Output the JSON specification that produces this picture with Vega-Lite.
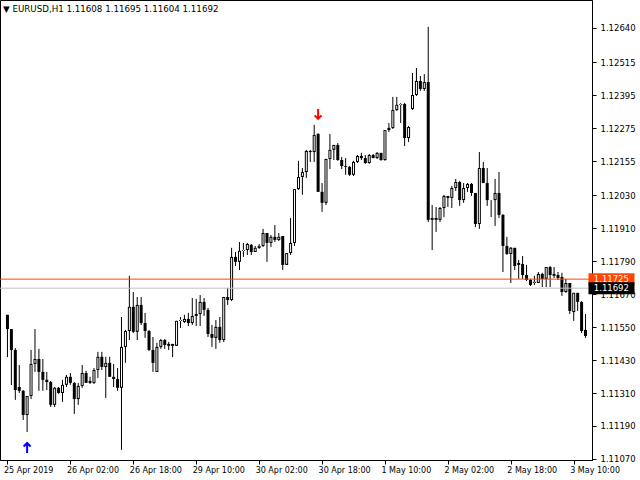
{
"$schema": "https://vega.github.io/schema/vega-lite/v6.json",
"width": 592, "height": 460,
"autosize": {"type": "none"},
"padding": {"left": 0, "top": 0, "right": 48, "bottom": 20},
"background": "white",
"title": {"text": "▼ EURUSD,H1  1.11608 1.11695 1.11604 1.11692", "anchor": "start", "frame": "group", "orient": "top", "offset": -14, "dx": 3, "font": "DejaVu Sans", "fontSize": 8.7, "fontWeight": "normal", "color": "black"},
"config": {
  "view": {"stroke": "black", "strokeWidth": 1},
  "axis": {"labelFont": "DejaVu Sans", "labelFontSize": 8, "labelColor": "black", "tickColor": "black", "domainColor": "black", "grid": false, "title": null, "tickSize": 4, "labelOverlap": false, "labelFlush": false, "labelBound": false}
},
"datasets": {
"candles": [
{"i":0,"o":1.11595,"h":1.11595,"l":1.11441,"c":1.11543},
{"i":1,"o":1.11543,"h":1.11543,"l":1.11339,"c":1.11467},
{"i":2,"o":1.11467,"h":1.11474,"l":1.11285,"c":1.11321},
{"i":3,"o":1.11332,"h":1.11412,"l":1.11310,"c":1.11318},
{"i":4,"o":1.11318,"h":1.11321,"l":1.11212,"c":1.11230},
{"i":5,"o":1.11230,"h":1.11299,"l":1.11168,"c":1.11299},
{"i":6,"o":1.11299,"h":1.11467,"l":1.11288,"c":1.11416},
{"i":7,"o":1.11416,"h":1.11543,"l":1.11387,"c":1.11434},
{"i":8,"o":1.11434,"h":1.11471,"l":1.11318,"c":1.11387},
{"i":9,"o":1.11387,"h":1.11434,"l":1.11318,"c":1.11358},
{"i":10,"o":1.11358,"h":1.11387,"l":1.11321,"c":1.11350},
{"i":11,"o":1.11350,"h":1.11354,"l":1.11259,"c":1.11267},
{"i":12,"o":1.11267,"h":1.11332,"l":1.11259,"c":1.11329},
{"i":13,"o":1.11329,"h":1.11332,"l":1.11307,"c":1.11310},
{"i":14,"o":1.11310,"h":1.11358,"l":1.11278,"c":1.11340},
{"i":15,"o":1.11340,"h":1.11376,"l":1.11332,"c":1.11369},
{"i":16,"o":1.11369,"h":1.11383,"l":1.11340,"c":1.11347},
{"i":17,"o":1.11347,"h":1.11350,"l":1.11234,"c":1.11288},
{"i":18,"o":1.11288,"h":1.11347,"l":1.11267,"c":1.11336},
{"i":19,"o":1.11336,"h":1.11412,"l":1.11329,"c":1.11383},
{"i":20,"o":1.11383,"h":1.11391,"l":1.11347,"c":1.11347},
{"i":21,"o":1.11354,"h":1.11369,"l":1.11343,"c":1.11347},
{"i":22,"o":1.11347,"h":1.11401,"l":1.11343,"c":1.11394},
{"i":23,"o":1.11394,"h":1.11460,"l":1.11365,"c":1.11442},
{"i":24,"o":1.11442,"h":1.11460,"l":1.11394,"c":1.11405},
{"i":25,"o":1.11405,"h":1.11442,"l":1.11292,"c":1.11420},
{"i":26,"o":1.11420,"h":1.11442,"l":1.11369,"c":1.11369},
{"i":27,"o":1.11369,"h":1.11416,"l":1.11332,"c":1.11361},
{"i":28,"o":1.11361,"h":1.11401,"l":1.11318,"c":1.11329},
{"i":29,"o":1.11329,"h":1.11587,"l":1.11103,"c":1.11478},
{"i":30,"o":1.11478,"h":1.11540,"l":1.11420,"c":1.11536},
{"i":31,"o":1.11536,"h":1.11737,"l":1.11503,"c":1.11624},
{"i":32,"o":1.11624,"h":1.11678,"l":1.11529,"c":1.11533},
{"i":33,"o":1.11533,"h":1.11660,"l":1.11503,"c":1.11631},
{"i":34,"o":1.11631,"h":1.11660,"l":1.11558,"c":1.11565},
{"i":35,"o":1.11565,"h":1.11602,"l":1.11511,"c":1.11536},
{"i":36,"o":1.11536,"h":1.11540,"l":1.11463,"c":1.11467},
{"i":37,"o":1.11467,"h":1.11514,"l":1.11387,"c":1.11420},
{"i":38,"o":1.11387,"h":1.11493,"l":1.11387,"c":1.11478},
{"i":39,"o":1.11478,"h":1.11507,"l":1.11471,"c":1.11503},
{"i":40,"o":1.11503,"h":1.11507,"l":1.11471,"c":1.11485},
{"i":41,"o":1.11489,"h":1.11496,"l":1.11467,"c":1.11482},
{"i":42,"o":1.11489,"h":1.11489,"l":1.11441,"c":1.11482},
{"i":43,"o":1.11482,"h":1.11573,"l":1.11482,"c":1.11573},
{"i":44,"o":1.11573,"h":1.11587,"l":1.11547,"c":1.11576},
{"i":45,"o":1.11569,"h":1.11595,"l":1.11565,"c":1.11580},
{"i":46,"o":1.11580,"h":1.11602,"l":1.11554,"c":1.11565},
{"i":47,"o":1.11565,"h":1.11656,"l":1.11558,"c":1.11591},
{"i":48,"o":1.11591,"h":1.11653,"l":1.11554,"c":1.11598},
{"i":49,"o":1.11598,"h":1.11667,"l":1.11554,"c":1.11642},
{"i":50,"o":1.11642,"h":1.11656,"l":1.11591,"c":1.11613},
{"i":51,"o":1.11613,"h":1.11620,"l":1.11514,"c":1.11525},
{"i":52,"o":1.11525,"h":1.11558,"l":1.11478,"c":1.11511},
{"i":53,"o":1.11511,"h":1.11576,"l":1.11471,"c":1.11551},
{"i":54,"o":1.11551,"h":1.11587,"l":1.11493,"c":1.11503},
{"i":55,"o":1.11503,"h":1.11660,"l":1.11496,"c":1.11660},
{"i":56,"o":1.11660,"h":1.11693,"l":1.11631,"c":1.11649},
{"i":57,"o":1.11649,"h":1.11839,"l":1.11645,"c":1.11806},
{"i":58,"o":1.11806,"h":1.11824,"l":1.11773,"c":1.11788},
{"i":59,"o":1.11788,"h":1.11860,"l":1.11758,"c":1.11828},
{"i":60,"o":1.11828,"h":1.11857,"l":1.11806,"c":1.11831},
{"i":61,"o":1.11831,"h":1.11857,"l":1.11813,"c":1.11853},
{"i":62,"o":1.11850,"h":1.11853,"l":1.11813,"c":1.11824},
{"i":63,"o":1.11824,"h":1.11846,"l":1.11824,"c":1.11839},
{"i":64,"o":1.11839,"h":1.11853,"l":1.11835,"c":1.11846},
{"i":65,"o":1.11846,"h":1.11908,"l":1.11842,"c":1.11893},
{"i":66,"o":1.11893,"h":1.11893,"l":1.11788,"c":1.11857},
{"i":67,"o":1.11857,"h":1.11886,"l":1.11842,"c":1.11879},
{"i":68,"o":1.11879,"h":1.11922,"l":1.11860,"c":1.11868},
{"i":69,"o":1.11868,"h":1.11893,"l":1.11864,"c":1.11879},
{"i":70,"o":1.11882,"h":1.11882,"l":1.11758,"c":1.11777},
{"i":71,"o":1.11777,"h":1.11820,"l":1.11777,"c":1.11820},
{"i":72,"o":1.11820,"h":1.11948,"l":1.11813,"c":1.11857},
{"i":73,"o":1.11857,"h":1.12053,"l":1.11846,"c":1.12053},
{"i":74,"o":1.12053,"h":1.12156,"l":1.12050,"c":1.12097},
{"i":75,"o":1.12097,"h":1.12130,"l":1.12032,"c":1.12115},
{"i":76,"o":1.12115,"h":1.12196,"l":1.12094,"c":1.12192},
{"i":77,"o":1.12192,"h":1.12196,"l":1.12152,"c":1.12188},
{"i":78,"o":1.12188,"h":1.12287,"l":1.12152,"c":1.12250},
{"i":79,"o":1.12254,"h":1.12257,"l":1.12043,"c":1.12043},
{"i":80,"o":1.12043,"h":1.12075,"l":1.11970,"c":1.12003},
{"i":81,"o":1.12003,"h":1.12163,"l":1.11995,"c":1.12163},
{"i":82,"o":1.12163,"h":1.12254,"l":1.12126,"c":1.12196},
{"i":83,"o":1.12196,"h":1.12214,"l":1.12159,"c":1.12214},
{"i":84,"o":1.12214,"h":1.12221,"l":1.12156,"c":1.12159},
{"i":85,"o":1.12159,"h":1.12170,"l":1.12126,"c":1.12137},
{"i":86,"o":1.12137,"h":1.12166,"l":1.12105,"c":1.12134},
{"i":87,"o":1.12134,"h":1.12137,"l":1.12101,"c":1.12105},
{"i":88,"o":1.12105,"h":1.12156,"l":1.12101,"c":1.12152},
{"i":89,"o":1.12152,"h":1.12177,"l":1.12148,"c":1.12174},
{"i":90,"o":1.12174,"h":1.12185,"l":1.12159,"c":1.12166},
{"i":91,"o":1.12166,"h":1.12177,"l":1.12145,"c":1.12148},
{"i":92,"o":1.12148,"h":1.12181,"l":1.12145,"c":1.12177},
{"i":93,"o":1.12177,"h":1.12181,"l":1.12166,"c":1.12166},
{"i":94,"o":1.12166,"h":1.12188,"l":1.12163,"c":1.12185},
{"i":95,"o":1.12185,"h":1.12185,"l":1.12156,"c":1.12159},
{"i":96,"o":1.12159,"h":1.12268,"l":1.12156,"c":1.12268},
{"i":97,"o":1.12268,"h":1.12294,"l":1.12261,"c":1.12276},
{"i":98,"o":1.12276,"h":1.12389,"l":1.12272,"c":1.12341},
{"i":99,"o":1.12341,"h":1.12389,"l":1.12338,"c":1.12360},
{"i":100,"o":1.12360,"h":1.12367,"l":1.12294,"c":1.12363},
{"i":101,"o":1.12363,"h":1.12367,"l":1.12210,"c":1.12239},
{"i":102,"o":1.12239,"h":1.12283,"l":1.12225,"c":1.12279},
{"i":103,"o":1.12345,"h":1.12476,"l":1.12341,"c":1.12396},
{"i":104,"o":1.12396,"h":1.12494,"l":1.12392,"c":1.12447},
{"i":105,"o":1.12447,"h":1.12465,"l":1.12411,"c":1.12418},
{"i":106,"o":1.12418,"h":1.12472,"l":1.12411,"c":1.12443},
{"i":107,"o":1.12443,"h":1.12644,"l":1.11933,"c":1.11941},
{"i":108,"o":1.11941,"h":1.11995,"l":1.11831,"c":1.11948},
{"i":109,"o":1.11948,"h":1.11988,"l":1.11897,"c":1.11941},
{"i":110,"o":1.11941,"h":1.11988,"l":1.11933,"c":1.11984},
{"i":111,"o":1.11984,"h":1.12032,"l":1.11951,"c":1.12028},
{"i":112,"o":1.12028,"h":1.12028,"l":1.11988,"c":1.12021},
{"i":113,"o":1.12021,"h":1.12064,"l":1.11984,"c":1.12057},
{"i":114,"o":1.12057,"h":1.12090,"l":1.12046,"c":1.12079},
{"i":115,"o":1.12079,"h":1.12083,"l":1.11992,"c":1.12013},
{"i":116,"o":1.12013,"h":1.12075,"l":1.12003,"c":1.12057},
{"i":117,"o":1.12057,"h":1.12075,"l":1.12043,"c":1.12072},
{"i":118,"o":1.12072,"h":1.12075,"l":1.12028,"c":1.12039},
{"i":119,"o":1.12039,"h":1.12039,"l":1.11915,"c":1.11926},
{"i":120,"o":1.11926,"h":1.12188,"l":1.11908,"c":1.12130},
{"i":121,"o":1.12130,"h":1.12152,"l":1.12075,"c":1.12075},
{"i":122,"o":1.12075,"h":1.12130,"l":1.11992,"c":1.12013},
{"i":123,"o":1.12013,"h":1.12013,"l":1.11951,"c":1.12013},
{"i":124,"o":1.12013,"h":1.12090,"l":1.11919,"c":1.12039},
{"i":125,"o":1.12039,"h":1.12115,"l":1.11948,"c":1.11959},
{"i":126,"o":1.11959,"h":1.11962,"l":1.11751,"c":1.11846},
{"i":127,"o":1.11846,"h":1.11879,"l":1.11813,"c":1.11817},
{"i":128,"o":1.11817,"h":1.11842,"l":1.11711,"c":1.11839},
{"i":129,"o":1.11839,"h":1.11839,"l":1.11758,"c":1.11773},
{"i":130,"o":1.11784,"h":1.11795,"l":1.11726,"c":1.11777},
{"i":131,"o":1.11780,"h":1.11809,"l":1.11726,"c":1.11740},
{"i":132,"o":1.11740,"h":1.11777,"l":1.11718,"c":1.11722},
{"i":133,"o":1.11722,"h":1.11726,"l":1.11700,"c":1.11704},
{"i":134,"o":1.11711,"h":1.11737,"l":1.11704,"c":1.11715},
{"i":135,"o":1.11711,"h":1.11751,"l":1.11711,"c":1.11744},
{"i":136,"o":1.11744,"h":1.11748,"l":1.11696,"c":1.11726},
{"i":137,"o":1.11726,"h":1.11769,"l":1.11696,"c":1.11769},
{"i":138,"o":1.11769,"h":1.11773,"l":1.11696,"c":1.11740},
{"i":139,"o":1.11744,"h":1.11769,"l":1.11729,"c":1.11737},
{"i":140,"o":1.11740,"h":1.11751,"l":1.11722,"c":1.11729},
{"i":141,"o":1.11733,"h":1.11748,"l":1.11664,"c":1.11678},
{"i":142,"o":1.11678,"h":1.11726,"l":1.11675,"c":1.11711},
{"i":143,"o":1.11711,"h":1.11711,"l":1.11598,"c":1.11609},
{"i":144,"o":1.11605,"h":1.11675,"l":1.11573,"c":1.11675},
{"i":145,"o":1.11675,"h":1.11675,"l":1.11609,"c":1.11642},
{"i":146,"o":1.11642,"h":1.11645,"l":1.11529,"c":1.11536},
{"i":147,"o":1.11540,"h":1.11598,"l":1.11511,"c":1.11518}
],
"levels": [
{"kind": "level", "price": 1.11725, "label": "1.11725"},
{"kind": "bid", "price": 1.11692, "label": "1.11692"}
],
"signals": [
{"i": 5, "price": 1.11110, "sig": "buy"},
{"i": 79, "price": 1.12327, "sig": "sell"}
]
},
"layer": [
{
 "data": {"name": "candles"},
 "mark": {"type": "rule", "color": "black", "strokeWidth": 1},
 "encoding": {
  "x": {"field": "i", "type": "quantitative", "scale": {"domain": [-0.625, 147.375], "nice": false, "zero": false}, "axis": {"orient": "bottom", "values": [0,16,32,48,64,80,96,112,128,144], "labelExpr": "['25 Apr 2019','26 Apr 02:00','26 Apr 18:00','29 Apr 10:00','30 Apr 02:00','30 Apr 18:00','1 May 10:00','2 May 02:00','2 May 18:00','3 May 10:00'][round(datum.value/16)]", "labelAlign": "left", "labelBaseline": "top", "labelPadding": 2, "labelOffset": -4, "labelOverlap": false}},
  "y": {"field": "l", "type": "quantitative", "scale": {"domain": [1.11066, 1.12742], "nice": false, "zero": false}, "axis": {"orient": "right", "values": [1.12640,1.12515,1.12395,1.12275,1.12155,1.12030,1.11910,1.11790,1.11670,1.11550,1.11430,1.11310,1.11190,1.11070], "format": ".5f", "labelBaseline": "middle", "labelPadding": 4, "labelOverlap": false, "labelFontSize": 8.5}},
  "y2": {"field": "h"}
 }
},
{
 "data": {"name": "candles"},
 "mark": {"type": "bar", "size": 3, "color": "black", "strokeWidth": 0},
 "encoding": {
  "x": {"field": "i", "type": "quantitative", "scale": {"domain": [-0.625, 147.375], "nice": false, "zero": false}, "axis": {"orient": "bottom", "values": [0,16,32,48,64,80,96,112,128,144], "labelExpr": "['25 Apr 2019','26 Apr 02:00','26 Apr 18:00','29 Apr 10:00','30 Apr 02:00','30 Apr 18:00','1 May 10:00','2 May 02:00','2 May 18:00','3 May 10:00'][round(datum.value/16)]", "labelAlign": "left", "labelBaseline": "top", "labelPadding": 2, "labelOffset": -4, "labelOverlap": false}},
  "y": {"field": "o", "type": "quantitative", "scale": {"domain": [1.11066, 1.12742], "nice": false, "zero": false}, "axis": {"orient": "right", "values": [1.12640,1.12515,1.12395,1.12275,1.12155,1.12030,1.11910,1.11790,1.11670,1.11550,1.11430,1.11310,1.11190,1.11070], "format": ".5f", "labelBaseline": "middle", "labelPadding": 4, "labelOverlap": false, "labelFontSize": 8.5}},
  "y2": {"field": "c"}
 }
},
{
 "data": {"name": "candles"},
 "transform": [{"filter": "datum.c > datum.o"}],
 "mark": {"type": "bar", "size": 1, "color": "white", "strokeWidth": 0, "yOffset": -1, "y2Offset": 1},
 "encoding": {
  "x": {"field": "i", "type": "quantitative", "scale": {"domain": [-0.625, 147.375], "nice": false, "zero": false}, "axis": {"orient": "bottom", "values": [0,16,32,48,64,80,96,112,128,144], "labelExpr": "['25 Apr 2019','26 Apr 02:00','26 Apr 18:00','29 Apr 10:00','30 Apr 02:00','30 Apr 18:00','1 May 10:00','2 May 02:00','2 May 18:00','3 May 10:00'][round(datum.value/16)]", "labelAlign": "left", "labelBaseline": "top", "labelPadding": 2, "labelOffset": -4, "labelOverlap": false}},
  "y": {"field": "o", "type": "quantitative", "scale": {"domain": [1.11066, 1.12742], "nice": false, "zero": false}, "axis": {"orient": "right", "values": [1.12640,1.12515,1.12395,1.12275,1.12155,1.12030,1.11910,1.11790,1.11670,1.11550,1.11430,1.11310,1.11190,1.11070], "format": ".5f", "labelBaseline": "middle", "labelPadding": 4, "labelOverlap": false, "labelFontSize": 8.5}},
  "y2": {"field": "c"}
 }
},
{
 "data": {"name": "levels"},
 "mark": {"type": "rule", "strokeWidth": 1},
 "encoding": {
  "y": {"field": "price", "type": "quantitative", "scale": {"domain": [1.11066, 1.12742], "nice": false, "zero": false}, "axis": {"orient": "right", "values": [1.12640,1.12515,1.12395,1.12275,1.12155,1.12030,1.11910,1.11790,1.11670,1.11550,1.11430,1.11310,1.11190,1.11070], "format": ".5f", "labelBaseline": "middle", "labelPadding": 4, "labelOverlap": false, "labelFontSize": 8.5}},
  "color": {"field": "kind", "type": "nominal", "scale": {"domain": ["level", "bid"], "range": ["#ff4500", "#c0c0c0"]}, "legend": null}
 }
},
{
 "data": {"name": "levels"},
 "mark": {"type": "tick", "orient": "horizontal", "size": 46, "thickness": 12, "opacity": 1},
 "encoding": {
  "x": {"datum": 153.6, "type": "quantitative", "scale": {"domain": [-0.625, 147.375], "nice": false, "zero": false}, "axis": {"orient": "bottom", "values": [0,16,32,48,64,80,96,112,128,144], "labelExpr": "['25 Apr 2019','26 Apr 02:00','26 Apr 18:00','29 Apr 10:00','30 Apr 02:00','30 Apr 18:00','1 May 10:00','2 May 02:00','2 May 18:00','3 May 10:00'][round(datum.value/16)]", "labelAlign": "left", "labelBaseline": "top", "labelPadding": 2, "labelOffset": -4, "labelOverlap": false}},
  "y": {"field": "price", "type": "quantitative", "scale": {"domain": [1.11066, 1.12742], "nice": false, "zero": false}, "axis": {"orient": "right", "values": [1.12640,1.12515,1.12395,1.12275,1.12155,1.12030,1.11910,1.11790,1.11670,1.11550,1.11430,1.11310,1.11190,1.11070], "format": ".5f", "labelBaseline": "middle", "labelPadding": 4, "labelOverlap": false, "labelFontSize": 8.5}},
  "color": {"field": "kind", "type": "nominal", "scale": {"domain": ["level", "bid"], "range": ["#ff4500", "#000000"]}, "legend": null}
 }
},
{
 "data": {"name": "levels"},
 "mark": {"type": "text", "align": "left", "baseline": "middle", "font": "DejaVu Sans", "fontSize": 8.5, "color": "white"},
 "encoding": {
  "x": {"datum": 149.1, "type": "quantitative", "scale": {"domain": [-0.625, 147.375], "nice": false, "zero": false}, "axis": {"orient": "bottom", "values": [0,16,32,48,64,80,96,112,128,144], "labelExpr": "['25 Apr 2019','26 Apr 02:00','26 Apr 18:00','29 Apr 10:00','30 Apr 02:00','30 Apr 18:00','1 May 10:00','2 May 02:00','2 May 18:00','3 May 10:00'][round(datum.value/16)]", "labelAlign": "left", "labelBaseline": "top", "labelPadding": 2, "labelOffset": -4, "labelOverlap": false}},
  "y": {"field": "price", "type": "quantitative", "scale": {"domain": [1.11066, 1.12742], "nice": false, "zero": false}, "axis": {"orient": "right", "values": [1.12640,1.12515,1.12395,1.12275,1.12155,1.12030,1.11910,1.11790,1.11670,1.11550,1.11430,1.11310,1.11190,1.11070], "format": ".5f", "labelBaseline": "middle", "labelPadding": 4, "labelOverlap": false, "labelFontSize": 8.5}},
  "text": {"field": "label"}
 }
},
{
 "data": {"name": "signals"},
 "mark": {"type": "point", "filled": false, "size": 100, "strokeWidth": 2, "opacity": 1},
 "encoding": {
  "x": {"field": "i", "type": "quantitative", "scale": {"domain": [-0.625, 147.375], "nice": false, "zero": false}, "axis": {"orient": "bottom", "values": [0,16,32,48,64,80,96,112,128,144], "labelExpr": "['25 Apr 2019','26 Apr 02:00','26 Apr 18:00','29 Apr 10:00','30 Apr 02:00','30 Apr 18:00','1 May 10:00','2 May 02:00','2 May 18:00','3 May 10:00'][round(datum.value/16)]", "labelAlign": "left", "labelBaseline": "top", "labelPadding": 2, "labelOffset": -4, "labelOverlap": false}},
  "y": {"field": "price", "type": "quantitative", "scale": {"domain": [1.11066, 1.12742], "nice": false, "zero": false}, "axis": {"orient": "right", "values": [1.12640,1.12515,1.12395,1.12275,1.12155,1.12030,1.11910,1.11790,1.11670,1.11550,1.11430,1.11310,1.11190,1.11070], "format": ".5f", "labelBaseline": "middle", "labelPadding": 4, "labelOverlap": false, "labelFontSize": 8.5}},
  "shape": {"field": "sig", "type": "nominal", "scale": {"domain": ["buy", "sell"], "range": ["M0,1L0,-1M-0.7,-0.3L0,-1L0.7,-0.3", "M0,-1L0,1M-0.7,0.3L0,1L0.7,0.3"]}, "legend": null},
  "color": {"field": "sig", "type": "nominal", "scale": {"domain": ["buy", "sell"], "range": ["#0000ff", "#ff0000"]}, "legend": null}
 }
}
],
"resolve": {"scale": {"color": "independent"}}
}
